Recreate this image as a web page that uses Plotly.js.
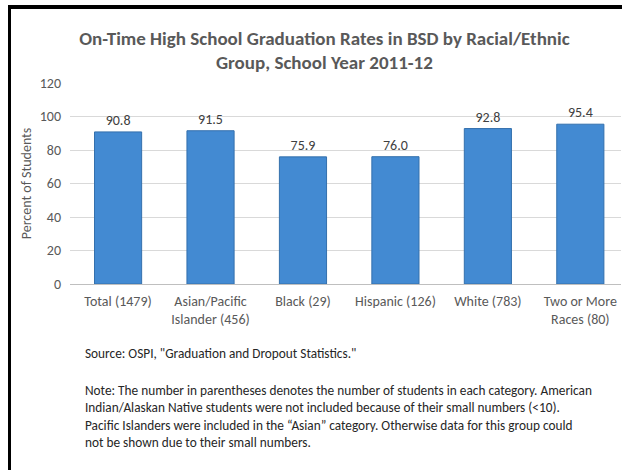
<!DOCTYPE html>
<html>
<head>
<meta charset="utf-8">
<script src="https://cdn.plot.ly/plotly-3.0.1.min.js"></script>
<style>
html,body{margin:0;padding:0;background:#fff;overflow:hidden;}
#topline{position:absolute;left:8px;top:5px;width:614px;height:4px;background:#000;}
#leftline{position:absolute;left:8px;top:5px;width:3px;height:465px;background:#000;}
#chart{position:absolute;left:11px;top:9px;width:611px;height:461px;}
</style>
</head>
<body>
<div id="chart"></div>
<div id="topline"></div>
<div id="leftline"></div>
<script>
const categories = ["Total (1479)", "Asian/Pacific<br>Islander (456)", "Black (29)", "Hispanic (126)", "White (783)", "Two or More<br>Races (80)"];
const rates = [90.8, 91.5, 75.9, 76.0, 92.8, 95.4];
const rateLabels = ["90.8", "91.5", "75.9", "76.0", "92.8", "95.4"];
const yTicks = [0, 20, 40, 60, 80, 100, 120];

const FONT = "Carlito, Calibri, Lato, sans-serif";

const trace = {
  type: "bar",
  x: [0,1,2,3,4,5],
  y: rates,
  text: rateLabels,
  textposition: "outside",
  cliponaxis: false,
  textfont: {family: FONT, size: 14, color: "#404040"},
  marker: {color: "#438ad2", line: {color: "#3470ad", width: 1}},
  hoverinfo: "skip"
};

const layout = {
  width: 611, height: 461,
  margin: {l: 59, r: 1, t: 74, b: 186},
  paper_bgcolor: "rgba(0,0,0,0)", plot_bgcolor: "rgba(0,0,0,0)",
  showlegend: false,
  bargap: 0.49,
  font: {family: FONT, color: "#595959", size: 14},
  title: {
    text: "<b>On-Time High School Graduation Rates in BSD by Racial/Ethnic<br>Group, School Year 2011-12</b>",
    font: {family: FONT, size: 19, color: "#595959"},
    x: 0.513, xref: "container", xanchor: "center",
    y: 1 - 35.5/461, yref: "container", yanchor: "middle"
  },
  xaxis: {
    range: [-0.52, 5.44],
    tickmode: "array",
    tickvals: [0,1,2,3,4,5],
    ticktext: categories,
    showgrid: false, zeroline: false, showline: false,
    ticks: "",
    ticklabelstandoff: 7,
    tickfont: {family: FONT, size: 14, color: "#595959"},
    fixedrange: true
  },
  yaxis: {
    range: [0, 120],
    tickmode: "array",
    tickvals: yTicks,
    showgrid: true, gridcolor: "#d9d9d9", gridwidth: 1,
    zeroline: true, zerolinecolor: "#bfbfbf", zerolinewidth: 1,
    showline: false, ticks: "",
    ticklabelstandoff: 8,
    tickfont: {family: FONT, size: 14, color: "#595959"},
    title: {text: "Percent of Students", font: {family: FONT, size: 14, color: "#595959"}, standoff: 4},
    fixedrange: true
  },
  annotations: [
    {
      text: "Source: OSPI, \"Graduation and Dropout Statistics.\"",
      xref: "paper", yref: "paper", x: 0.0236, y: (275-344)/201,
      xanchor: "left", yanchor: "middle", align: "left", showarrow: false,
      font: {family: FONT, size: 13.3, color: "#262626"}
    },
    {
      text: "Note: The number in parentheses denotes the number of students in each category. American<br>Indian/Alaskan Native students were not included because of their small numbers (<10).<br>Pacific Islanders were included in the \u201cAsian\u201d category. Otherwise data for this group could<br>not be shown due to their small numbers.",
      xref: "paper", yref: "paper", x: 0.0236, y: (275-407.5)/201,
      xanchor: "left", yanchor: "middle", align: "left", showarrow: false,
      font: {family: FONT, size: 13.3, color: "#262626"}
    }
  ]
};

Plotly.newPlot("chart", [trace], layout, {displayModeBar: false, staticPlot: true});
</script>
</body>
</html>
